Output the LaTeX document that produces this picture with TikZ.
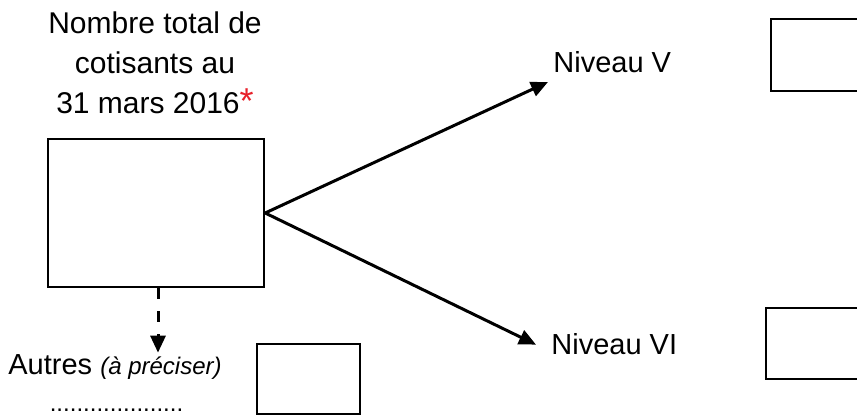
\documentclass[tikz,border=0pt]{standalone}
\usepackage{fontspec}
\setmainfont{Liberation Sans}
\usetikzlibrary{arrows.meta,positioning}
\definecolor{starred}{HTML}{E8202A}

\begin{document}
\begin{tikzpicture}[x=0.5pt, y=-0.5pt, >={Triangle[length=8.5pt, width=7.5pt]},
  box/.style={draw, line width=1.2pt, inner sep=0pt},
  lbl/.style={font=\fontsize{14.5}{20}\selectfont, inner sep=0pt},
  link/.style={->, line width=1.5pt}]
\useasboundingbox (0,0) rectangle (857,416);
\node[lbl, align=center, anchor=north, font=\fontsize{15}{20}\selectfont] (titre) at (155,11) {Nombre total de\\cotisants au\\31 mars 2016\textcolor{starred}{\fontsize{18}{20}\selectfont *}};
\node[box, minimum width=108pt, minimum height=74pt] (total) at (156,213) {};
\node[lbl, anchor=base west] (niv5) at (553,73) {Niveau V};
\node[lbl, anchor=base west] (niv6) at (551,355) {Niveau VI};
\node[box, minimum width=60pt, minimum height=36pt] (box5) at (831,55) {};
\node[box, minimum width=60pt, minimum height=35.5pt] (box6) at (826,343.5) {};
\node[lbl, anchor=base west] (autres) at (8,375) {Autres {\fontsize{12}{14}\selectfont\itshape (à préciser)}};
\node[box, minimum width=51.5pt, minimum height=35pt] (autresbox) at (308.5,379) {};
\node[lbl, anchor=base, font=\fontsize{12}{14}\selectfont] (pointilles) at (116.5,412) {....................};
\draw[link] (total.east) -- ([xshift=-2.5pt, yshift=-4.5pt]niv5.base west);
\draw[link] (total.east) -- ([xshift=-7.5pt]niv6.west);
\draw[link, dash pattern=on 5.5pt off 6pt] ([xshift=1pt]total.south) -- ([xshift=1pt, yshift=1pt]total.south |- autres.north);
\end{tikzpicture}
\end{document}
